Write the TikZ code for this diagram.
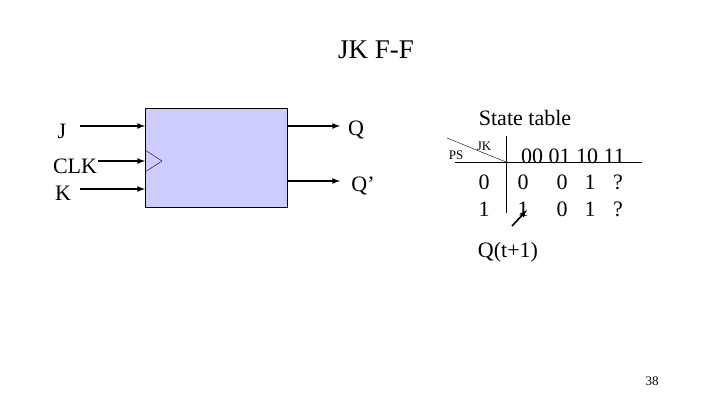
\documentclass[tikz,border=0pt]{standalone}
\usepackage{fontspec}
\setmainfont{Liberation Serif}
\begin{document}
\begin{tikzpicture}[x=1pt,y=-1pt,
  lbl/.style={font=\fontsize{22}{24}\selectfont,inner sep=0},
  small/.style={font=\fontsize{13}{14}\selectfont,inner sep=0},
  sig/.style={line width=1.6pt,-latex}]
\useasboundingbox (0,0) rectangle (720,405);
\node[lbl,font=\fontsize{27}{30}\selectfont] (title) at (376,50) {JK F-F};
\node[draw,fill={rgb,255:red,204;green,204;blue,255},minimum width=142pt,minimum height=99pt,anchor=north west] (ff) at (145,108) {};
\coordinate (jin) at (80,126); \coordinate (cin) at (98,161); \coordinate (kin) at (80,189);
\coordinate (qo) at (340,126); \coordinate (qbo) at (340,181);
\draw[sig] (jin) -- (jin-|ff.west);
\draw[sig] (cin) -- (cin-|ff.west);
\draw[sig] (kin) -- (kin-|ff.west);
\draw[sig] (qo-|ff.east) -- (qo);
\draw[sig] (qbo-|ff.east) -- (qbo);
\draw (145,150) -- (162,161) -- (145,172);
\node[lbl] (j) at (62,131) {J};
\node[lbl] (clk) at (75,166) {CLK};
\node[lbl] (k) at (63,193) {K};
\node[lbl] (q) at (356,130) {Q};
\node[lbl] (qb) at (363,186) {Q’};
\node[lbl] (st) at (525,118) {State table};
\draw (506,136) -- (506,213);
\draw (455,162) -- (642,162);
\draw (447,138) -- (506,162);
\node[small] (ps) at (456,155) {PS};
\node[small] (jk) at (484,146) {JK};
\node[lbl] (hdr) at (573,156) {00 01 10 11};
\foreach \x/\v in {484/0,523/0,562/0,590/1,618/?} \node[lbl] at (\x,182) {\v};
\foreach \x/\v in {484/1,523/1,562/0,590/1,618/?} \node[lbl] at (\x,209) {\v};
\coordinate (as) at (512,226); \coordinate (ae) at (527,210);
\draw[line width=1.6pt,-latex] (as) -- (ae);
\node[lbl] (qt) at (508,252) {Q(t+1)};
\node[small] (pg) at (652,381) {38};
\end{tikzpicture}
\end{document}
